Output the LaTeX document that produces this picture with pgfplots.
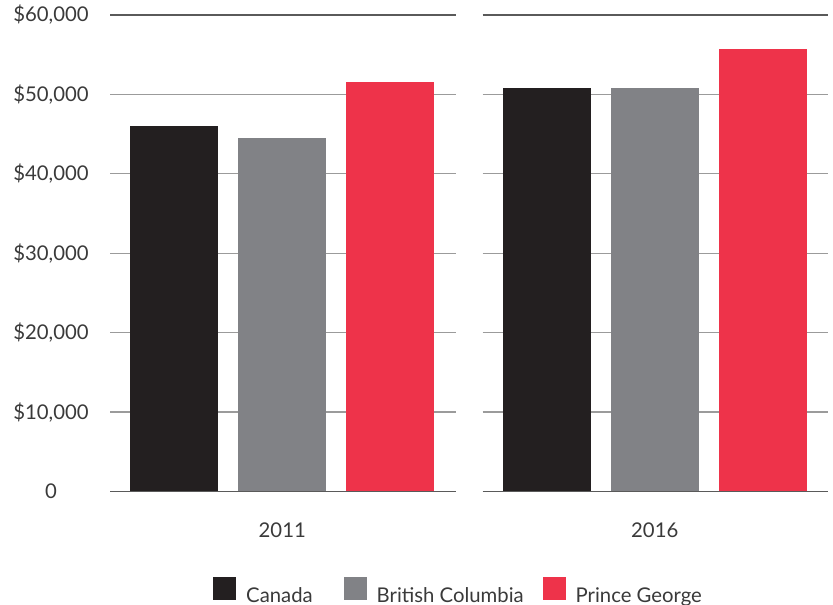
\documentclass[border=0pt]{standalone}
\usepackage{fontspec}
\setmainfont{Lato}
\usepackage{pgfplots}
\pgfplotsset{compat=1.18}
\definecolor{cCan}{RGB}{35,31,32}
\definecolor{cBC}{RGB}{129,130,134}
\definecolor{cPG}{RGB}{238,51,74}
\definecolor{txt}{RGB}{58,58,58}
\definecolor{gridc}{RGB}{155,155,155}
\definecolor{edgec}{RGB}{90,90,90}
\begin{document}
\begin{tikzpicture}[x=1pt,y=1pt]
\path (0,0) rectangle (833,605);
\pgfplotsset{
 panel/.style={
  scale only axis, width=345.5pt, height=476.5pt,
  ymin=0, ymax=60000, xmin=-0.593, xmax=2.602,
  scaled y ticks=false,
  axis line style={draw=none},
  major tick length=0pt,
  ytick={10000,20000,30000,40000,50000},
  extra y ticks={0,60000},
  ymajorgrids,
  grid style={color=gridc, line width=1.3pt},
  extra y tick style={grid style={color=edgec, line width=1.3pt}},
  xtick={1},
  ticklabel style={font=\fontsize{20.3}{24}\selectfont, text=txt},
  yticklabel style={anchor=center, xshift=-59pt},
  xticklabel style={anchor=center, yshift=-38.5pt},
  bar width=0.815, bar shift=0pt,
  clip=false,
 }
}
\begin{axis}[panel, at={(110pt,113.5pt)}, anchor=south west,
  yticklabels={{\$10,000},{\$20,000},{\$30,000},{\$40,000},{\$50,000}},
  extra y tick labels={0,{\$60,000}},
  xticklabels={2011},
  legend style={at={(axis description cs:0.2981,-0.2078)}, anchor=west, draw=none, fill=none,
    inner sep=0pt, legend columns=3, font=\fontsize{20.3}{24}\selectfont, text=txt,
    nodes={inner sep=0pt},
    /tikz/every odd column/.append style={column sep=10pt},
    /tikz/column 2/.append style={column sep=31pt},
    /tikz/column 4/.append style={column sep=19pt}},
  legend image code/.code={\fill[#1, draw=none] (0pt,-5pt) rectangle (23pt,18pt);},
]
\addplot[ybar, fill=cCan, draw=none] coordinates {(0,46050)};
\addplot[ybar, fill=cBC, draw=none] coordinates {(1,44550)};
\addplot[ybar, fill=cPG, draw=none] coordinates {(2,51600)};
\legend{Canada, British Columbia, Prince George}
\end{axis}
\begin{axis}[panel, at={(482.5pt,113.5pt)}, anchor=south west,
  yticklabels={}, extra y tick labels={},
  xticklabels={2016},
]
\addplot[ybar, fill=cCan, draw=none] coordinates {(0,50840)};
\addplot[ybar, fill=cBC, draw=none] coordinates {(1,50840)};
\addplot[ybar, fill=cPG, draw=none] coordinates {(2,55760)};
\end{axis}
\end{tikzpicture}
\end{document}
